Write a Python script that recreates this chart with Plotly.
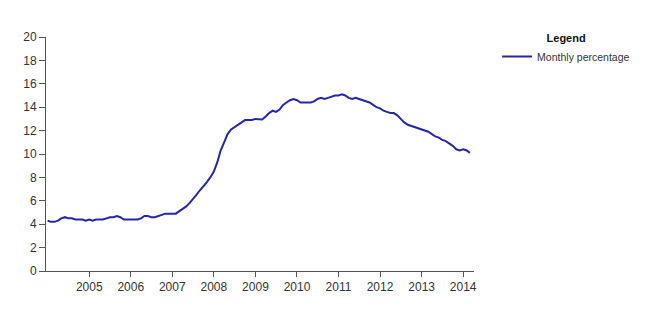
import pandas as pd
import plotly.graph_objects as go

# Monthly values, Jan 2004 .. Mar 2014
start_month = "2004-01-01"
values_2004 = [4.3, 4.2, 4.2, 4.3, 4.5, 4.6, 4.5, 4.5, 4.4, 4.4, 4.4, 4.3]
values_2005 = [4.4, 4.3, 4.4, 4.4, 4.4, 4.5, 4.6, 4.6, 4.7, 4.6, 4.4, 4.4]
values_2006 = [4.4, 4.4, 4.4, 4.5, 4.7, 4.7, 4.6, 4.6, 4.7, 4.8, 4.9, 4.9]
values_2007 = [4.9, 4.9, 5.1, 5.3, 5.5, 5.8, 6.1, 6.5, 6.9, 7.2, 7.6, 8.0]
values_2008 = [8.5, 9.3, 10.3, 11.0, 11.7, 12.1, 12.3, 12.5, 12.7, 12.9, 12.9, 12.9]
values_2009 = [13.0, 13.0, 12.95, 13.2, 13.5, 13.7, 13.6, 13.8, 14.2, 14.4, 14.6, 14.7]
values_2010 = [14.6, 14.4, 14.4, 14.4, 14.4, 14.5, 14.7, 14.8, 14.7, 14.8, 14.9, 15.0]
values_2011 = [15.0, 15.1, 15.0, 14.8, 14.7, 14.8, 14.7, 14.6, 14.5, 14.4, 14.2, 14.0]
values_2012 = [13.9, 13.7, 13.6, 13.5, 13.5, 13.3, 13.0, 12.7, 12.5, 12.4, 12.3, 12.2]
values_2013 = [12.1, 12.0, 11.9, 11.7, 11.5, 11.4, 11.2, 11.1, 10.9, 10.7, 10.4, 10.3]
values_2014 = [10.4, 10.3, 10.1]

values = (values_2004 + values_2005 + values_2006 + values_2007 + values_2008 +
          values_2009 + values_2010 + values_2011 + values_2012 + values_2013 +
          values_2014)
dates = pd.date_range(start_month, periods=len(values), freq="MS")

tick_years = [2005, 2006, 2007, 2008, 2009, 2010, 2011, 2012, 2013, 2014]
tick_dates = [f"{y}-01-01" for y in tick_years]
tick_labels = [str(y) for y in tick_years]

series_name = "Monthly percentage"
legend_title = "Legend"

fig = go.Figure()
fig.add_trace(go.Scatter(
    x=dates, y=values, mode="lines", name=series_name,
    line=dict(color="#2626ac", width=2),
    showlegend=True,
))

axis_font = dict(family="Liberation Sans, Arial, sans-serif", size=12, color="#333333")

fig.update_layout(
    width=650, height=317,
    margin=dict(l=46, r=176, t=37, b=46, autoexpand=False),
    paper_bgcolor="white", plot_bgcolor="white",
    showlegend=True,
    legend=dict(
        title=dict(text="<b>" + legend_title + "</b>", side="top center",
                   font=dict(family="Liberation Sans, Arial, sans-serif", size=11, color="#111111")),
        font=dict(family="Liberation Sans, Arial, sans-serif", size=10.5, color="#333333"),
        x=1.054, xanchor="left", y=1.04, yanchor="top",
        bgcolor="rgba(0,0,0,0)",
    ),
    xaxis=dict(
        type="date",
        range=["2003-12-18", "2014-04-06"],
        tickmode="array", tickvals=tick_dates, ticktext=tick_labels,
        showgrid=False, zeroline=False,
        showline=True, linecolor="#555555", linewidth=1,
        ticks="outside", ticklen=5, tickcolor="#555555",
        tickfont=axis_font, automargin=False,
    ),
    yaxis=dict(
        range=[0, 20], dtick=2, tick0=0,
        showgrid=False, zeroline=False,
        showline=True, linecolor="#555555", linewidth=1,
        ticks="outside", ticklen=6, tickcolor="#555555",
        tickfont=axis_font, automargin=False,
    ),
)

fig.write_html("out.html")
